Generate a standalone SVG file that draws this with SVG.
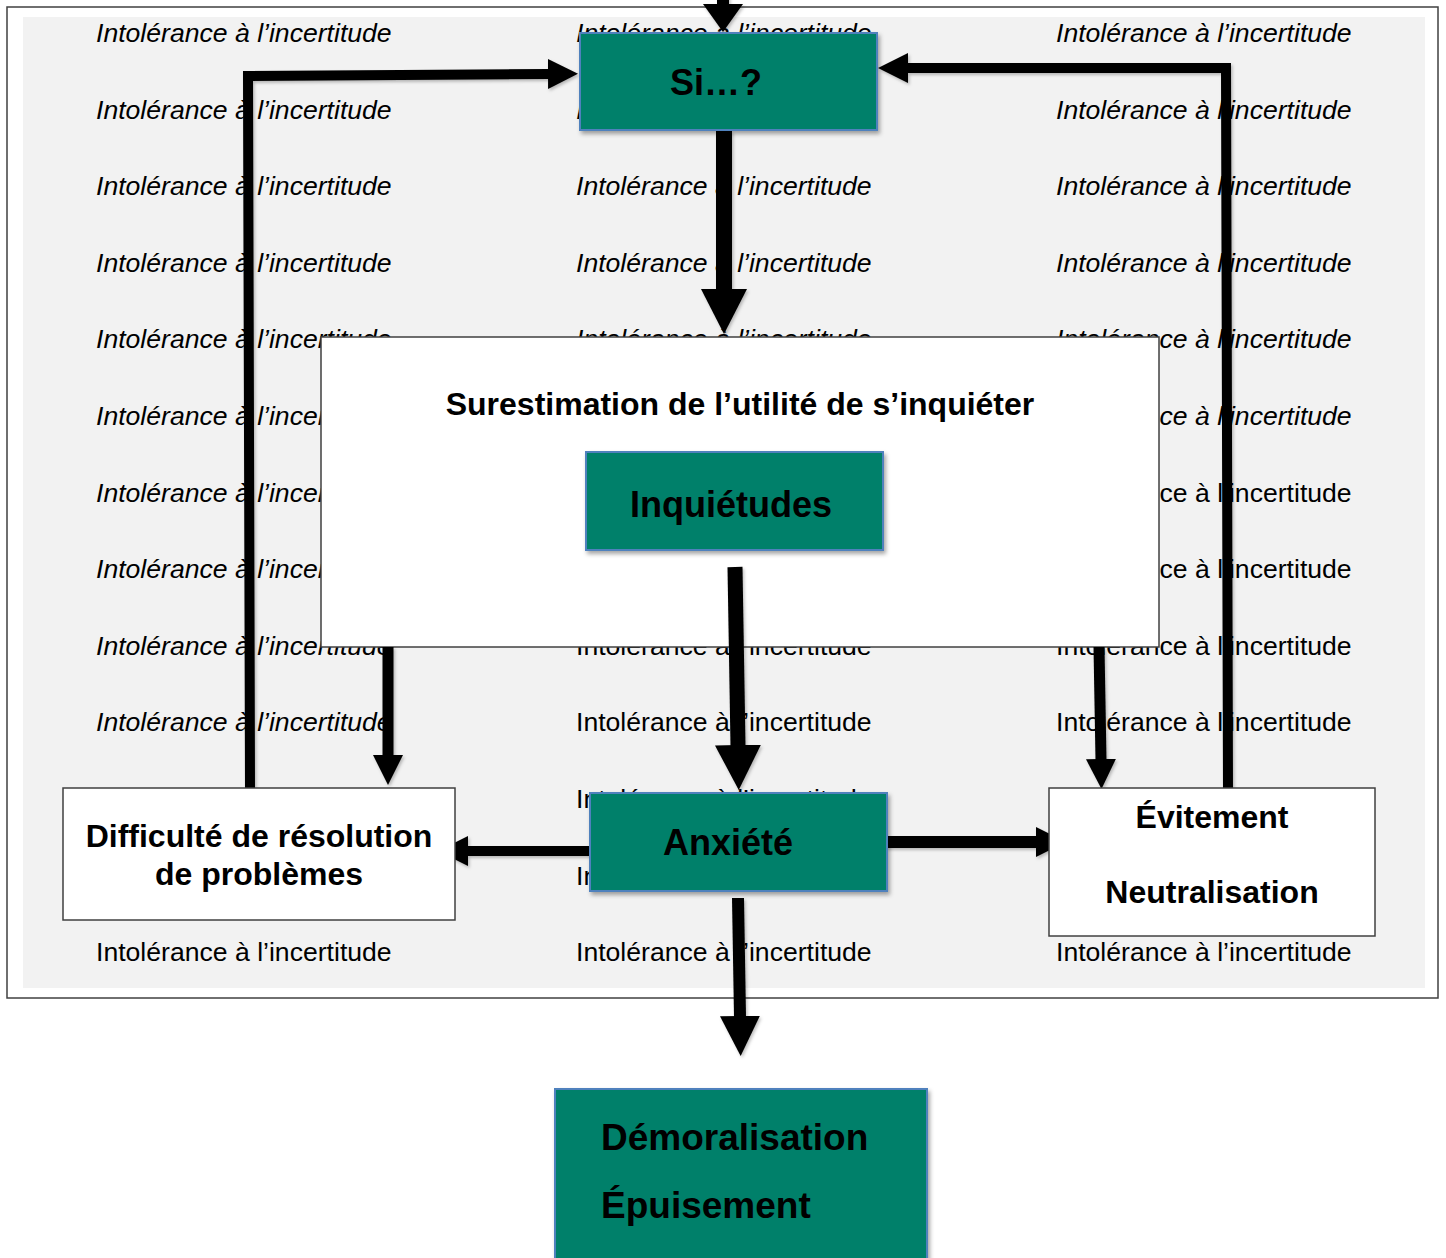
<svg xmlns="http://www.w3.org/2000/svg" width="1446" height="1258" viewBox="0 0 1446 1258">
<style>
.bg{font-family:"Liberation Sans",Arial,sans-serif;font-size:26.6px;fill:#000}
.it{font-style:italic}
.lbl{font-family:"Liberation Sans",Arial,sans-serif;font-weight:bold;fill:#000}
.teal{fill:#00806a;stroke:#4f81bd;stroke-width:2}
.wbox{fill:#fff;stroke:#404040;stroke-width:1.5}
.con{fill:none;stroke:#000;stroke-linejoin:miter}
</style>
<defs>
<filter id="sh" x="-10%" y="-10%" width="130%" height="140%">
<feDropShadow dx="2" dy="3" stdDeviation="2.2" flood-color="#000" flood-opacity="0.35"/>
</filter>
<filter id="csh" x="-20%" y="-20%" width="140%" height="140%">
<feDropShadow dx="1.5" dy="2" stdDeviation="1.5" flood-color="#000" flood-opacity="0.25"/>
</filter>
<marker id="hL" markerUnits="userSpaceOnUse" viewBox="0 -24 46 48" refX="1" refY="0" markerWidth="46" markerHeight="48" orient="auto"><path d="M0,-23 L45,0 L0,23 Z" fill="#000"/></marker>
<marker id="hM" markerUnits="userSpaceOnUse" viewBox="0 -21 41 42" refX="1" refY="0" markerWidth="41" markerHeight="42" orient="auto"><path d="M0,-20 L40,0 L0,20 Z" fill="#000"/></marker>
<marker id="hT" markerUnits="userSpaceOnUse" viewBox="0 -21 29 42" refX="1" refY="0" markerWidth="29" markerHeight="42" orient="auto"><path d="M0,-20 L28,0 L0,20 Z" fill="#000"/></marker>
<marker id="hS" markerUnits="userSpaceOnUse" viewBox="0 -16 31 32" refX="1" refY="0" markerWidth="31" markerHeight="32" orient="auto"><path d="M0,-15 L30,0 L0,15 Z" fill="#000"/></marker>
</defs>
<rect width="1446" height="1258" fill="#fff"/>
<rect x="7" y="7" width="1431" height="991" fill="#fff" stroke="#404040" stroke-width="1.5"/>
<rect x="23" y="17" width="1402" height="971" fill="#f2f2f2"/>
<g id="watermark">
<text class="bg it" x="96" y="42">Intolérance à l’incertitude</text>
<text class="bg it" x="96" y="118.6">Intolérance à l’incertitude</text>
<text class="bg it" x="96" y="195.2">Intolérance à l’incertitude</text>
<text class="bg it" x="96" y="271.8">Intolérance à l’incertitude</text>
<text class="bg it" x="96" y="348.4">Intolérance à l’incertitude</text>
<text class="bg it" x="96" y="425">Intolérance à l’incertitude</text>
<text class="bg it" x="96" y="501.6">Intolérance à l’incertitude</text>
<text class="bg it" x="96" y="578.2">Intolérance à l’incertitude</text>
<text class="bg it" x="96" y="654.8">Intolérance à l’incertitude</text>
<text class="bg it" x="96" y="731.4">Intolérance à l’incertitude</text>
<text class="bg" x="96" y="961.2">Intolérance à l’incertitude</text>
<text class="bg it" x="576" y="42">Intolérance à l’incertitude</text>
<text class="bg it" x="576" y="118.6">I</text>
<text class="bg it" x="576" y="195.2">Intolérance à l’incertitude</text>
<text class="bg it" x="576" y="271.8">Intolérance à l’incertitude</text>
<text class="bg it" x="576" y="348.4">Intolérance à l’incertitude</text>
<text class="bg" x="576" y="654.8">Intolérance à l’incertitude</text>
<text class="bg" x="576" y="731.4">Intolérance à l’incertitude</text>
<text class="bg" x="576" y="808">Intolérance à l’incertitude</text>
<text class="bg" x="576" y="884.6">Intolérance à l’incertitude</text>
<text class="bg" x="576" y="961.2">Intolérance à l’incertitude</text>
<text class="bg it" x="1056" y="42">Intolérance à l’incertitude</text>
<text class="bg it" x="1056" y="118.6">Intolérance à l’incertitude</text>
<text class="bg it" x="1056" y="195.2">Intolérance à l’incertitude</text>
<text class="bg it" x="1056" y="271.8">Intolérance à l’incertitude</text>
<text class="bg it" x="1056" y="348.4">Intolérance à l’incertitude</text>
<text class="bg it" x="1056" y="425">Intolérance à l’incertitude</text>
<text class="bg" x="1056" y="501.6">Intolérance à l’incertitude</text>
<text class="bg" x="1056" y="578.2">Intolérance à l’incertitude</text>
<text class="bg" x="1056" y="654.8">Intolérance à l’incertitude</text>
<text class="bg" x="1056" y="731.4">Intolérance à l’incertitude</text>
<text class="bg" x="1056" y="961.2">Intolérance à l’incertitude</text>
</g>
<g id="surestimation">
<rect class="wbox" x="321" y="337" width="838" height="310"/>
<text class="lbl" x="740" y="415" font-size="32" text-anchor="middle">Surestimation de l’utilité de s’inquiéter</text>
</g>
<g id="connectors" filter="url(#csh)">
<path class="con" d="M723,-6 L723,5" stroke-width="12" marker-end="url(#hT)"/>
<path class="con" d="M724,131 L724,290" stroke-width="16" marker-end="url(#hL)"/>
<path class="con" d="M250,790 L248,76 L549,74" stroke-width="10" marker-end="url(#hS)"/>
<path class="con" d="M1228,792 L1226,68 L907,68" stroke-width="10" marker-end="url(#hS)"/>
<path class="con" d="M735,567 L738,746" stroke-width="15" marker-end="url(#hL)"/>
<path class="con" d="M388,647 L388,756" stroke-width="11" marker-end="url(#hS)"/>
<path class="con" d="M1099,647 L1101,760" stroke-width="11" marker-end="url(#hS)"/>
<path class="con" d="M592,851 L467,851" stroke-width="10" marker-end="url(#hS)"/>
<path class="con" d="M886,842 L1037,842" stroke-width="12" marker-end="url(#hS)"/>
<path class="con" d="M738,898 L740,1017" stroke-width="12" marker-end="url(#hM)"/>
</g>
<g id="si">
<rect class="teal" x="580" y="33" width="297" height="97" filter="url(#sh)"/>
<text class="lbl" x="716" y="95" font-size="36" text-anchor="middle">Si…?</text>
</g>
<g id="inquietudes">
<rect class="teal" x="586" y="452" width="297" height="98" filter="url(#sh)"/>
<text class="lbl" x="731" y="517" font-size="36" text-anchor="middle">Inquiétudes</text>
</g>
<g id="anxiete">
<rect class="teal" x="590" y="793" width="297" height="98" filter="url(#sh)"/>
<text class="lbl" x="728" y="855" font-size="36" text-anchor="middle">Anxiété</text>
</g>
<g id="difficulte">
<rect class="wbox" x="63" y="788" width="392" height="132"/>
<text class="lbl" x="259" y="847" font-size="32" text-anchor="middle">Difficulté de résolution</text>
<text class="lbl" x="259" y="885" font-size="32" text-anchor="middle">de problèmes</text>
</g>
<g id="evitement">
<rect class="wbox" x="1049" y="788" width="326" height="148"/>
<text class="lbl" x="1212" y="828" font-size="32" text-anchor="middle">Évitement</text>
<text class="lbl" x="1212" y="903" font-size="32" text-anchor="middle">Neutralisation</text>
</g>
<g id="demoralisation">
<rect class="teal" x="555" y="1089" width="372" height="190" filter="url(#sh)"/>
<text class="lbl" x="601" y="1150" font-size="37">Démoralisation</text>
<text class="lbl" x="601" y="1218" font-size="37">Épuisement</text>
</g>
</svg>
